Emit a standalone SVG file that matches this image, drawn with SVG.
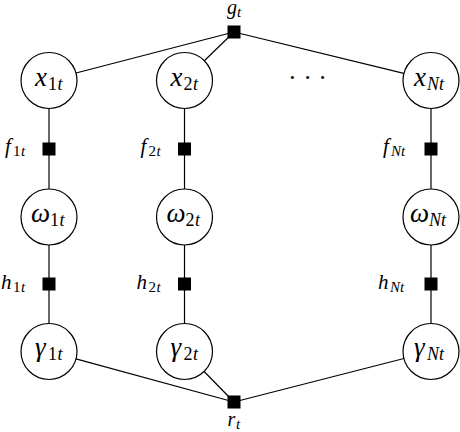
<svg xmlns="http://www.w3.org/2000/svg" width="460" height="432" viewBox="0 0 460 432">
<rect width="460" height="432" fill="#fff"/>
<g id="connectors" stroke="#000" stroke-width="1.2" fill="none">
<line x1="234" y1="32" x2="76" y2="73"/>
<line x1="234" y1="32" x2="204.6" y2="60.5"/>
<line x1="234" y1="32" x2="403.8" y2="73.4"/>
<line x1="234" y1="402" x2="76" y2="358.9"/>
<line x1="234" y1="402" x2="204.1" y2="371.5"/>
<line x1="234" y1="402" x2="403.9" y2="358.5"/>
<line x1="49" y1="108" x2="49" y2="189"/>
<line x1="49" y1="245" x2="49" y2="323.5"/>
<line x1="184.5" y1="108" x2="184.5" y2="189"/>
<line x1="184.5" y1="245" x2="184.5" y2="323.5"/>
<line x1="431" y1="108" x2="431" y2="189"/>
<line x1="431" y1="245" x2="431" y2="323.5"/>
</g>
<g id="g_t"><rect x="227.5" y="25.5" width="13" height="13" fill="#000"/>
<text font-family="Liberation Serif" font-style="italic" font-size="20" x="227" y="14">g</text>
<text font-family="Liberation Serif" font-style="italic" font-size="15" x="237" y="17">t</text></g>
<g id="r_t"><rect x="227.5" y="395.5" width="13" height="13" fill="#000"/>
<text font-family="Liberation Serif" font-style="italic" font-size="20" x="227.5" y="426">r</text>
<text font-family="Liberation Serif" font-style="italic" font-size="15" x="236" y="429">t</text></g>

<g id="x1"><circle cx="49" cy="80.5" r="28" fill="#fff" stroke="#000" stroke-width="1.2"/>
<text font-family="Liberation Serif" font-style="italic" font-size="27" x="35" y="86">x</text>
<text font-family="Liberation Serif" font-size="18" x="48" y="90">1</text>
<text font-family="Liberation Serif" font-style="italic" font-size="18" x="57.5" y="90">t</text></g>
<g id="x2"><circle cx="184.5" cy="80.5" r="28" fill="#fff" stroke="#000" stroke-width="1.2"/>
<text font-family="Liberation Serif" font-style="italic" font-size="27" x="170.5" y="86">x</text>
<text font-family="Liberation Serif" font-size="18" x="183.5" y="90">2</text>
<text font-family="Liberation Serif" font-style="italic" font-size="18" x="193" y="90">t</text></g>
<g id="xN"><circle cx="431" cy="80.5" r="28" fill="#fff" stroke="#000" stroke-width="1.2"/>
<text font-family="Liberation Serif" font-style="italic" font-size="27" x="414" y="86">x</text>
<text font-family="Liberation Serif" font-style="italic" font-size="18" x="427" y="90">Nt</text></g>

<g id="dots"><text font-family="Liberation Serif" font-size="26" x="307.5" y="86" text-anchor="middle">· · ·</text></g>

<g id="f1"><rect x="42.5" y="142.5" width="13" height="13" fill="#000"/>
<text font-family="Liberation Serif" font-style="italic" font-size="21" x="5" y="153">f</text>
<text font-family="Liberation Serif" font-size="15" x="13" y="156">1</text>
<text font-family="Liberation Serif" font-style="italic" font-size="15" x="21" y="156">t</text></g>
<g id="f2"><rect x="178" y="142.5" width="13" height="13" fill="#000"/>
<text font-family="Liberation Serif" font-style="italic" font-size="21" x="140.5" y="153">f</text>
<text font-family="Liberation Serif" font-size="15" x="148.5" y="156">2</text>
<text font-family="Liberation Serif" font-style="italic" font-size="15" x="156.5" y="156">t</text></g>
<g id="fN"><rect x="424.5" y="142.5" width="13" height="13" fill="#000"/>
<text font-family="Liberation Serif" font-style="italic" font-size="21" x="383" y="153">f</text>
<text font-family="Liberation Serif" font-style="italic" font-size="15" x="391" y="156">Nt</text></g>

<g id="w1"><circle cx="49" cy="217" r="28" fill="#fff" stroke="#000" stroke-width="1.2"/>
<text font-family="Liberation Serif" font-style="italic" font-size="27" x="31" y="222">ω</text>
<text font-family="Liberation Serif" font-size="18" x="50" y="226">1</text>
<text font-family="Liberation Serif" font-style="italic" font-size="18" x="59.5" y="226">t</text></g>
<g id="w2"><circle cx="184.5" cy="217" r="28" fill="#fff" stroke="#000" stroke-width="1.2"/>
<text font-family="Liberation Serif" font-style="italic" font-size="27" x="166.5" y="222">ω</text>
<text font-family="Liberation Serif" font-size="18" x="185.5" y="226">2</text>
<text font-family="Liberation Serif" font-style="italic" font-size="18" x="195" y="226">t</text></g>
<g id="wN"><circle cx="431" cy="217" r="28" fill="#fff" stroke="#000" stroke-width="1.2"/>
<text font-family="Liberation Serif" font-style="italic" font-size="27" x="410" y="222">ω</text>
<text font-family="Liberation Serif" font-style="italic" font-size="18" x="429" y="226">Nt</text></g>

<g id="h1"><rect x="42.5" y="277.5" width="13" height="13" fill="#000"/>
<text font-family="Liberation Serif" font-style="italic" font-size="21" x="1" y="289">h</text>
<text font-family="Liberation Serif" font-size="15" x="13" y="292">1</text>
<text font-family="Liberation Serif" font-style="italic" font-size="15" x="21" y="292">t</text></g>
<g id="h2"><rect x="178" y="277.5" width="13" height="13" fill="#000"/>
<text font-family="Liberation Serif" font-style="italic" font-size="21" x="136.5" y="289">h</text>
<text font-family="Liberation Serif" font-size="15" x="148.5" y="292">2</text>
<text font-family="Liberation Serif" font-style="italic" font-size="15" x="156.5" y="292">t</text></g>
<g id="hN"><rect x="424.5" y="277.5" width="13" height="13" fill="#000"/>
<text font-family="Liberation Serif" font-style="italic" font-size="21" x="378" y="289">h</text>
<text font-family="Liberation Serif" font-style="italic" font-size="15" x="390" y="292">Nt</text></g>

<g id="g1"><circle cx="49" cy="351.5" r="28" fill="#fff" stroke="#000" stroke-width="1.2"/>
<text font-family="Liberation Serif" font-style="italic" font-size="27" x="35" y="356">γ</text>
<text font-family="Liberation Serif" font-size="18" x="48" y="360">1</text>
<text font-family="Liberation Serif" font-style="italic" font-size="18" x="57.5" y="360">t</text></g>
<g id="g2"><circle cx="184.5" cy="351.5" r="28" fill="#fff" stroke="#000" stroke-width="1.2"/>
<text font-family="Liberation Serif" font-style="italic" font-size="27" x="170.5" y="356">γ</text>
<text font-family="Liberation Serif" font-size="18" x="183.5" y="360">2</text>
<text font-family="Liberation Serif" font-style="italic" font-size="18" x="193" y="360">t</text></g>
<g id="gN"><circle cx="431" cy="351.5" r="28" fill="#fff" stroke="#000" stroke-width="1.2"/>
<text font-family="Liberation Serif" font-style="italic" font-size="27" x="414" y="356">γ</text>
<text font-family="Liberation Serif" font-style="italic" font-size="18" x="427" y="360">Nt</text></g>
</svg>
